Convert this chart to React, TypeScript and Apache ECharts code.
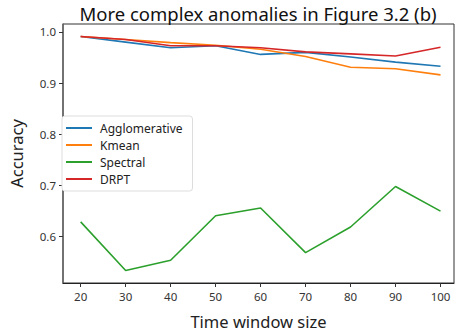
import React, { useEffect, useRef } from "react";
import * as echarts from "echarts";

const windowSizes = [20, 30, 40, 50, 60, 70, 80, 90, 100];
const agglomerative = [0.991, 0.98, 0.969, 0.973, 0.956, 0.96, 0.951, 0.941, 0.933];
const kmean = [0.991, 0.985, 0.979, 0.974, 0.966, 0.952, 0.931, 0.928, 0.916];
const spectral = [0.629, 0.534, 0.554, 0.641, 0.656, 0.569, 0.619, 0.698, 0.65];
const drpt = [0.991, 0.985, 0.973, 0.973, 0.969, 0.961, 0.957, 0.953, 0.97];
const yTicks = [0.6, 0.7, 0.8, 0.9, 1.0];

const FONT = "'Noto Sans', 'DejaVu Sans', sans-serif";

const seriesDefs = [
  { name: "Agglomerative", data: agglomerative, color: "#1f77b4" },
  { name: "Kmean", data: kmean, color: "#ff7f0e" },
  { name: "Spectral", data: spectral, color: "#2ca02c" },
  { name: "DRPT", data: drpt, color: "#d62728" },
];

export default function App() {
  const ref = useRef<HTMLDivElement>(null);
  useEffect(() => {
    if (!ref.current) return;
    const chart = echarts.init(ref.current, null, { renderer: "svg" });
    chart.setOption({
      animation: false,
      backgroundColor: "#ffffff",
      title: {
        text: "More complex anomalies in Figure 3.2 (b)",
        left: 253,
        top: -1,
        textAlign: "center",
        textStyle: { fontFamily: FONT, fontSize: 18.5, fontWeight: "normal", color: "#111" },
      },
      legend: {
        orient: "vertical",
        left: 62,
        top: 116,
        itemWidth: 26,
        itemHeight: 2,
        itemGap: 5,
        padding: [6, 10, 6, 4],
        backgroundColor: "#fff",
        borderColor: "#ddd",
        borderWidth: 1,
        borderRadius: 3,
        icon: "rect",
        textStyle: { fontFamily: FONT, fontSize: 12, color: "#222", padding: [0, 0, 0, 3] },
        data: seriesDefs.map((s) => s.name),
      },
      grid: {
        left: 56,
        top: 24,
        right: 1,
        bottom: 48,
        show: true,
        borderColor: "#333",
        borderWidth: 1,
        backgroundColor: "transparent",
      },
      xAxis: {
        type: "value",
        min: 16.07,
        max: 103,
        name: "Time window size",
        nameLocation: "middle",
        nameGap: 30,
        nameTextStyle: { fontFamily: FONT, fontSize: 16.5, color: "#222" },
        axisLine: { show: true, lineStyle: { color: "#222", width: 1 } },
        axisTick: { show: true, length: 4, lineStyle: { color: "#333" }, customValues: windowSizes },
        axisLabel: {
          fontFamily: FONT,
          fontSize: 11.5,
          color: "#333",
          margin: 7,
          customValues: windowSizes,
        },
        splitLine: { show: false },
      },
      yAxis: {
        type: "value",
        min: 0.5096,
        max: 1.0154,
        name: "Accuracy",
        nameLocation: "middle",
        nameGap: 38,
        nameTextStyle: { fontFamily: FONT, fontSize: 16.5, color: "#222" },
        axisLine: { show: true, lineStyle: { color: "#666", width: 1.5 } },
        axisTick: { show: true, length: 4, lineStyle: { color: "#333" }, customValues: yTicks },
        axisLabel: {
          fontFamily: FONT,
          fontSize: 11.5,
          color: "#333",
          margin: 7,
          customValues: yTicks,
          formatter: (v: number) => v.toFixed(1),
        },
        splitLine: { show: false },
      },
      series: seriesDefs.map((s) => ({
        name: s.name,
        type: "line",
        data: windowSizes.map((x, i) => [x, s.data[i]]),
        showSymbol: false,
        symbol: "none",
        color: s.color,
        lineStyle: { width: 1.6, color: s.color },
      })),
    });
    return () => chart.dispose();
  }, []);
  return <div ref={ref} style={{ width: 455, height: 335, position: "absolute", left: 0, top: 0 }} />;
}
